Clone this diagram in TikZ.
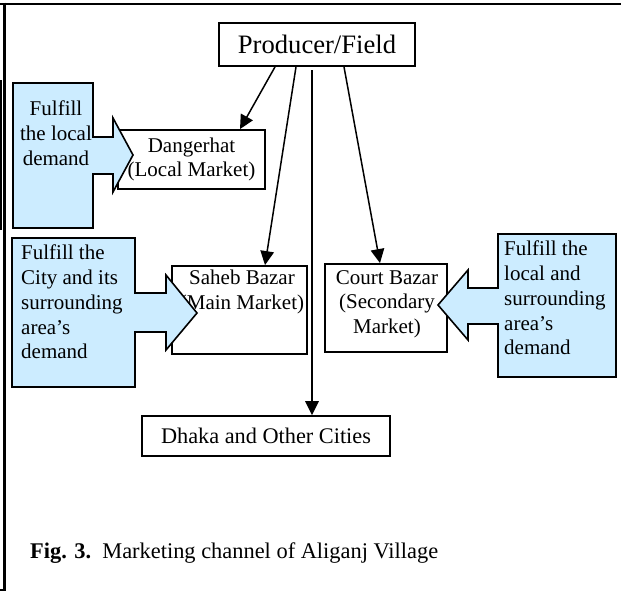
\documentclass[tikz,border=0pt]{standalone}
\usepackage{fontspec}
\setmainfont{Liberation Serif}
\usetikzlibrary{arrows.meta}
\definecolor{calloutblue}{HTML}{CCECFF}
\tikzset{
  box/.style={draw, line width=1.8pt, fill=white, rectangle, inner sep=0pt},
  boxtext/.style={inner sep=0pt, align=center, font=\fontsize{21}{24.5}\selectfont},
  calltext/.style={inner sep=0pt, align=left, font=\fontsize{21}{24.8}\selectfont},
  callout/.style={draw, line width=1.6pt, fill=calloutblue, line join=miter},
  arr/.style={line width=1.5pt, -{Triangle[length=14pt,width=13.5pt]}},
  frame/.style={line width=2pt}
}
\begin{document}
\begin{tikzpicture}[x=1pt,y=-1pt]
\useasboundingbox (0,0) rectangle (621,592);

% outer frame
\draw[frame] (0,3.5) -- (621,3.5);
\draw[line width=3pt] (4.8,2.5) -- (4.8,590);
\draw[frame] (1,80) -- (1,230);
\draw[frame] (0,590) -- (6,590);

% market boxes
\node[box, minimum width=196pt, minimum height=43pt,
      font=\fontsize{26.6}{30}\selectfont] (prod) at (317,44.5) {Producer/Field};
\node[box, minimum width=147pt, minimum height=59pt] (dang) at (191.5,159.5) {};
\node[boxtext] (dangt) at (dang.center) {Dangerhat\\(Local Market)};
\node[box, minimum width=135pt, minimum height=88pt] (saheb) at (239.5,310) {};
\node[boxtext] (saheht) at (242,292) {Saheb Bazar\\(Main Market)};
\node[box, minimum width=122pt, minimum height=88pt] (court) at (386,308) {};
\node[boxtext] (courtt) at (387,304) {Court Bazar\\(Secondary\\Market)};
\node[box, minimum width=248pt, minimum height=40pt,
      font=\fontsize{22.3}{26}\selectfont] (dhaka) at (266,436) {Dhaka and Other Cities};

% flows from the producer
\coordinate (vtop) at (312,70);
\draw[arr] (275,0 |- prod.south) -- (240,0 |- dang.north);
\draw[arr] (296,0 |- prod.south) -- (265,0 |- saheb.north);
\draw[arr] (vtop) -- (vtop |- dhaka.north);
\draw[arr] (344,0 |- prod.south) -- (380,0 |- court.north);

% demand callouts
\draw[callout] (13,83) -- (93,83) -- (93,137) -- (113,137) -- (113,118) -- (133,155)
  -- (113,192) -- (113,174) -- (93,174) -- (93,228) -- (13,228) -- cycle;
\node[calltext, align=center] (c1) at (56,133) {Fulfill\\the local\\demand};

\draw[callout] (12,238) -- (135,238) -- (135,293) -- (166,293) -- (166,275) -- (197,313)
  -- (166,350) -- (166,332) -- (135,332) -- (135,387) -- (12,387) -- cycle;
\node[calltext, anchor=west] (c2) at (21,302) {Fulfill the\\City and its\\surrounding\\area’s\\demand};

\draw[callout] (616,234) -- (498,234) -- (498,288) -- (468,288) -- (468,270) -- (438,305)
  -- (468,340) -- (468,324) -- (498,324) -- (498,377) -- (616,377) -- cycle;
\node[calltext, anchor=west] (c3) at (504,298) {Fulfill the\\local and\\surrounding\\area’s\\demand};

% caption
\node[inner sep=0pt, anchor=base west, font=\fontsize{22.4}{26}\selectfont] (cap) at (30,558)
  {\textbf{Fig. 3.}\hspace{0.5em}Marketing channel of Aliganj Village};
\end{tikzpicture}
\end{document}
